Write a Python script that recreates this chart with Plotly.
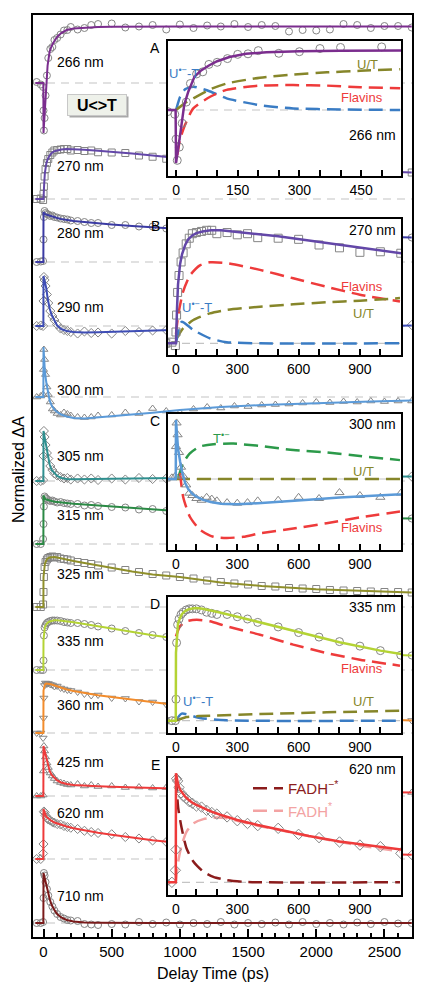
import plotly.graph_objects as go

# ------------------------------------------------------------------ data
WAVELENGTHS = ["266 nm", "270 nm", "280 nm", "290 nm", "300 nm", "305 nm", "315 nm",
               "325 nm", "335 nm", "360 nm", "425 nm", "620 nm", "710 nm"]
# vertical offset (baseline) of every stacked trace, in normalized units
OFFSETS = [17.08, 14.76, 13.5, 12.22, 10.8, 9.12, 7.86, 6.6, 5.34, 4.08, 2.82, 1.56, 0.28]

# fitted curves (delay time in ps)
T_FIT = [-60, -1, 0, 5, 10, 20, 30, 45, 60, 80, 100, 130, 170, 220, 300, 400, 500, 650, 800,
         1000, 1300, 1600, 2000, 2400, 2700]
FIT_266 = [0, 0, -1.0, -0.75, -0.47, 0.1, 0.35, 0.63, 0.74, 0.84, 0.92, 1.0, 1.06, 1.09, 1.11,
           1.12, 1.125, 1.13, 1.13, 1.13, 1.13, 1.13, 1.13, 1.13, 1.13]
FIT_270 = [0, 0, 0, 0.3, 0.52, 0.7, 0.79, 0.87, 0.92, 0.955, 0.975, 0.99, 1.0, 1.0, 0.985,
           0.967, 0.947, 0.91, 0.868, 0.81, 0.73, 0.67, 0.61, 0.56, 0.53]
FIT_280 = [0, 0, 1.0, 0.98, 0.96, 0.95, 0.94, 0.93, 0.92, 0.9, 0.88, 0.86, 0.84, 0.82, 0.8,
           0.77, 0.75, 0.72, 0.69, 0.66, 0.62, 0.58, 0.54, 0.51, 0.49]
FIT_290 = [0, 0, 1.0, 0.95, 0.9, 0.76, 0.56, 0.35, 0.22, 0.1, 0.01, -0.06, -0.1, -0.12, -0.13,
           -0.125, -0.115, -0.1, -0.09, -0.075, -0.06, -0.045, -0.025, -0.005, 0.01]
FIT_300 = [0, 0, 1.0, 0.75, 0.52, 0.3, 0.12, -0.07, -0.17, -0.25, -0.3, -0.35, -0.39, -0.42,
           -0.43, -0.41, -0.39, -0.35, -0.315, -0.26, -0.2, -0.16, -0.12, -0.09, -0.07]
FIT_305 = [0, 0, 1.0, 0.92, 0.83, 0.66, 0.5, 0.33, 0.22, 0.15, 0.1, 0.06, 0.04, 0.035, 0.035,
           0.04, 0.045, 0.05, 0.055, 0.06, 0.07, 0.075, 0.08, 0.085, 0.09]
FIT_315 = [0, 0, 0.97, 0.93, 0.91, 0.89, 0.88, 0.865, 0.855, 0.845, 0.84, 0.83, 0.82, 0.805,
           0.79, 0.77, 0.75, 0.72, 0.69, 0.655, 0.61, 0.58, 0.55, 0.52, 0.51]
FIT_325 = [0, 0, 0.6, 0.78, 0.86, 0.93, 0.97, 0.99, 1.0, 1.0, 0.99, 0.97, 0.95, 0.92, 0.88,
           0.83, 0.78, 0.71, 0.65, 0.6, 0.49, 0.42, 0.355, 0.31, 0.29]
FIT_335 = [0, 0, 0.6, 0.8, 0.86, 0.91, 0.945, 0.97, 0.985, 0.993, 0.997, 0.99, 0.977, 0.955,
           0.92, 0.875, 0.83, 0.76, 0.695, 0.62, 0.52, 0.44, 0.37, 0.32, 0.29]
FIT_360 = [0, 0, 0.85, 0.93, 0.97, 0.99, 0.99, 0.98, 0.97, 0.95, 0.93, 0.9, 0.87, 0.84, 0.8,
           0.755, 0.72, 0.67, 0.61, 0.55, 0.46, 0.4, 0.33, 0.28, 0.25]
FIT_425 = [0, 0, 1.0, 0.95, 0.9, 0.77, 0.65, 0.5, 0.42, 0.36, 0.31, 0.27, 0.24, 0.22, 0.205,
           0.195, 0.185, 0.17, 0.16, 0.145, 0.125, 0.11, 0.09, 0.08, 0.07]
FIT_620 = [0, 0, 1.0, 0.95, 0.9, 0.85, 0.825, 0.785, 0.76, 0.73, 0.71, 0.685, 0.65, 0.617,
           0.572, 0.525, 0.485, 0.425, 0.375, 0.32, 0.24, 0.18, 0.13, 0.1, 0.085]
FIT_710 = [0, 0, 1.0, 0.95, 0.9, 0.8, 0.66, 0.48, 0.36, 0.26, 0.18, 0.11, 0.06, 0.03, 0.01,
           0.005, 0, 0, 0, 0, 0, 0, 0, 0, 0]

# measured points (None = hidden behind an inset, not readable)
T_MK = [-50, -20, -3, 0, 3, 8, 15, 25, 35, 50, 65, 80, 100, 125, 150, 175, 200, 250, 300, 350,
        400, 500, 600, 700, 800, 900, 1000, 1100, 1200, 1300, 1400, 1500, 1600, 1700, 1800,
        1900, 2000, 2100, 2200, 2300, 2400, 2500, 2600, 2700]
HID = [None] * 14
MK_266 = [0.02, -0.03, -0.08, -0.55, -0.95, -0.7, -0.25, 0.15, 0.5, 0.68, 0.72, 0.86, 0.9, 0.97,
          1.05, 1.06, 1.12, 1.07, 1.1, 1.16, 1.18, 1.19, 1.11, 1.13, 1.16, 1.07, 1.17, 1.1, 1.15,
          1.13, 1.18, 1.12, 1.16, 1.14, 1.03, 1.06, 1.05, 1.07, 1.18, 1.16, 1.1, 1.14, 1.14, 1.11]
MK_270 = [0.0, 0.01, -0.02, 0.1, 0.25, 0.45, 0.6, 0.72, 0.8, 0.88, 0.93, 0.97, 0.98, 0.99, 1.0,
          1.0, 0.97, 0.98, 0.96, 0.97, 0.935, 0.93, 0.92, 0.87, 0.845, 0.805, 0.81, 0.797] + HID + [0.55, 0.53]
MK_280 = [0.0, 0.01, 0.02, 0.45, 0.9, 1.02, 0.98, 0.96, 0.95, 0.92, 0.93, 0.9, 0.89, 0.87, 0.86,
          0.85, 0.83, 0.82, 0.8, 0.78, 0.78, 0.74, 0.74, 0.71, 0.71, 0.67, 0.66, 0.65] + HID + [0.5, 0.49]
MK_290 = [0.0, 0.01, 0.0, 0.5, 0.98, 0.92, 0.8, 0.63, 0.46, 0.3, 0.2, 0.12, 0.03, -0.05, -0.08,
          -0.1, -0.12, -0.15, -0.11, -0.14, -0.13, -0.15, -0.1, -0.12, -0.09, -0.08, -0.08, -0.07] + HID + [0.0, 0.02]
MK_300 = [0.0, 0.02, 0.05, 0.55, 0.95, 0.75, 0.45, 0.2, 0.05, -0.1, -0.24, -0.28, -0.33, -0.36,
          -0.31, -0.34, -0.37, -0.4, -0.41, -0.4, -0.37, -0.36, -0.31, -0.33, -0.23, -0.28, -0.31,
          -0.24, -0.2, -0.22, -0.18, -0.19, -0.16, -0.15, -0.14, -0.12, -0.1, -0.11, -0.09, -0.1,
          -0.08, -0.09, -0.08, -0.08]
MK_305 = [0.0, 0.0, 0.02, 0.5, 1.0, 0.88, 0.72, 0.56, 0.45, 0.3, 0.22, 0.15, 0.11, 0.08, 0.05,
          0.06, 0.03, 0.05, 0.03, 0.05, 0.02, 0.05, 0.03, 0.06, 0.04, 0.05, 0.05, 0.06] + HID + [0.08, 0.09]
MK_315 = [0.0, 0.0, 0.1, 0.4, 0.75, 0.95, 0.92, 0.9, 0.88, 0.86, 0.87, 0.85, 0.83, 0.84, 0.82,
          0.81, 0.8, 0.8, 0.77, 0.78, 0.76, 0.74, 0.73, 0.69, 0.7, 0.66, 0.65, 0.64] + HID + [0.5, 0.51]
MK_325 = [0.0, 0.0, 0.05, 0.3, 0.6, 0.8, 0.9, 0.95, 0.98, 1.0, 1.01, 0.99, 1.0, 0.97, 0.96, 0.95,
          0.93, 0.9, 0.88, 0.86, 0.83, 0.79, 0.74, 0.7, 0.66, 0.63, 0.6, 0.57, 0.53, 0.5, 0.47,
          0.45, 0.42, 0.41, 0.38, 0.37, 0.36, 0.34, 0.33, 0.32, 0.31, 0.3, 0.3, 0.29]
MK_335 = [0.0, 0.0, 0.0, 0.19, 0.69, 0.85, 0.9, 0.94, 0.96, 0.98, 0.99, 0.99, 0.99, 0.98, 0.96,
          0.95, 0.94, 0.94, 0.92, 0.9, 0.87, 0.83, 0.78, 0.74, 0.7, 0.66, 0.62, 0.58] + HID + [0.3, 0.29]
MK_360 = [0.0, 0.0, -0.1, 0.3, 0.7, 0.95, 1.0, 0.98, 0.99, 0.97, 0.96, 0.93, 0.94, 0.9, 0.88,
          0.86, 0.85, 0.82, 0.78, 0.75, 0.76, 0.7, 0.69, 0.63, 0.62, 0.57, 0.55, 0.52] + HID + [0.26, 0.25]
MK_425 = [0.0, 0.0, 0.02, 0.5, 1.0, 0.9, 0.78, 0.66, 0.57, 0.46, 0.4, 0.35, 0.3, 0.27, 0.25,
          0.23, 0.22, 0.24, 0.2, 0.22, 0.19, 0.2, 0.17, 0.18, 0.16, 0.17, 0.15, 0.14] + HID + [0.07, 0.07]
MK_620 = [0.0, 0.0, 0.11, 0.3, 0.95, 0.93, 0.87, 0.82, 0.79, 0.77, 0.74, 0.725, 0.7, 0.69, 0.66,
          0.64, 0.625, 0.6, 0.565, 0.54, 0.52, 0.495, 0.44, 0.41, 0.37, 0.342, 0.327, 0.266] + HID + [0.09, 0.08]
MK_710 = [0.0, 0.0, 0.02, 0.5, 1.0, 0.95, 0.82, 0.68, 0.55, 0.42, 0.33, 0.25, 0.18, 0.12, 0.09,
          0.06, 0.05, 0.04, -0.02, -0.03, -0.04, -0.02, -0.03, 0.02, -0.02, 0.01, -0.03, 0.0,
          -0.02, 0.02, -0.03, 0.0, -0.02, 0.01, -0.03, 0.02, -0.02, 0.0, -0.03, 0.01, -0.02,
          0.02, -0.01, 0.0]

# inset component curves
A_T_BLUE = [0, 6, 10, 22, 42, 83, 123, 204, 285, 400, 545]
A_BLUE = [0.0, 0.16, 0.25, 0.39, 0.44, 0.35, 0.22, 0.09, 0.03, 0.01, 0.0]
A_T_OLIVE = [0, 20, 42, 83, 123, 204, 285, 367, 448, 545]
A_OLIVE = [0.0, 0.12, 0.22, 0.39, 0.5, 0.61, 0.67, 0.71, 0.74, 0.77]
A_T_RED = [3, 10, 22, 42, 83, 123, 204, 285, 367, 448, 545]
A_RED = [-0.85, -0.55, -0.28, 0.03, 0.25, 0.38, 0.46, 0.47, 0.46, 0.43, 0.41]

B_T_RED = [0, 11, 35, 68, 117, 166, 248, 411, 574, 737, 900, 1096]
B_RED = [0.08, 0.25, 0.457, 0.6, 0.69, 0.717, 0.71, 0.65, 0.575, 0.5, 0.43, 0.37]
B_T_OLIVE = [0, 35, 85, 166, 248, 411, 574, 737, 900, 1096]
B_OLIVE = [0.03, 0.133, 0.206, 0.265, 0.295, 0.324, 0.345, 0.363, 0.377, 0.40]
B_T_BLUE = [0, 28, 85, 166, 248, 411, 1096]
B_BLUE = [0.0, 0.19, 0.118, 0.044, 0.01, 0.0, 0.0]

C_T_GREEN = [11, 35, 68, 117, 183, 281, 411, 574, 737, 900, 1096]
C_GREEN = [0.02, 0.27, 0.435, 0.55, 0.59, 0.60, 0.56, 0.49, 0.45, 0.39, 0.32]
C_T_OLIVE = [0, 1096]
C_OLIVE = [0.0, 0.0]
C_T_RED = [20, 35, 68, 117, 183, 248, 330, 411, 574, 737, 900, 1096]
C_RED = [0.1, -0.3, -0.64, -0.86, -0.98, -1.0, -0.98, -0.92, -0.84, -0.75, -0.65, -0.55]

D_T_RED = [0, 20, 52, 101, 166, 248, 411, 574, 737, 900, 1096]
D_RED = [0.747, 0.835, 0.88, 0.894, 0.88, 0.835, 0.761, 0.673, 0.599, 0.54, 0.487]
D_T_BLUE = [0, 28, 117, 248, 1096]
D_BLUE = [0.0, 0.062, 0.024, 0.003, 0.0]
D_T_OLIVE = [0, 52, 166, 411, 737, 1096]
D_OLIVE = [0.0, 0.033, 0.044, 0.059, 0.074, 0.089]

E_T_DARK = [0, 11, 28, 52, 85, 134, 183, 248, 330, 411, 1096]
E_DARK = [0.954, 0.68, 0.495, 0.31, 0.19, 0.097, 0.05, 0.02, 0.005, 0.0, 0.0]
E_T_PINK = [0, 11, 28, 52, 85, 134, 183, 248, 330, 411, 574, 737, 900, 1096]
E_PINK = [0.0, 0.19, 0.342, 0.465, 0.54, 0.58, 0.593, 0.587, 0.55, 0.515, 0.453, 0.392, 0.338, 0.283]

MAIN_TICKS = [0, 500, 1000, 1500, 2000, 2500]
INSET_A_TICKS = [0, 150, 300, 450]
INSET_TICKS = [0, 300, 600, 900]

# ------------------------------------------------------------------ styles / geometry
W, H = 426, 997
ML, MR, MT, MB = 33, 14, 15, 60
PW, PH = W - ML - MR, H - MT - MB
FONT = "Liberation Sans, Arial, sans-serif"


def pxx(x):
    return (x - ML) / PW


def pxy(y):
    return (H - MB - y) / PH


MAIN_XR = [-77, 2702]
MAIN_YR = [0, PH / 50.0]

FITS = [FIT_266, FIT_270, FIT_280, FIT_290, FIT_300, FIT_305, FIT_315, FIT_325, FIT_335,
        FIT_360, FIT_425, FIT_620, FIT_710]
MARKS = [MK_266, MK_270, MK_280, MK_290, MK_300, MK_305, MK_315, MK_325, MK_335, MK_360,
         MK_425, MK_620, MK_710]
COLORS = ["#7b2d8e", "#6347a8", "#3b3ba3", "#3e4db5", "#5b9ad8", "#2f8f8f", "#2b8a45",
          "#8f8f2a", "#b4d334", "#f28c2c", "#ee3a3a", "#ee3a3a", "#7a1a1a"]
SYMBOLS = ["circle-open", "square-open", "circle-open", "diamond-open", "triangle-up-open",
           "diamond-open", "circle-open", "square-open", "circle-open", "triangle-down-open",
           "triangle-up-open", "diamond-open", "circle-open"]
LABEL_Y = [62, 166, 233, 307, 390, 456, 515, 574, 641, 705, 762, 813, 896]

BLUE, OLIVE, RED, GREEN = "#3a7cc4", "#86862a", "#ee3b3b", "#2c9a4a"
DARKRED, PINK = "#8b1c1c", "#f3a3a3"
MARK_COLOR = "#858585"
DASH = "14px,7px"

fig = go.Figure()


def shift(vals, off):
    return [None if v is None else v + off for v in vals]


# main baselines
for off in OFFSETS:
    fig.add_trace(go.Scatter(x=MAIN_XR, y=[off, off], mode="lines", showlegend=False,
                             hoverinfo="skip",
                             line=dict(color="#c4c4c4", width=1.2, dash="8px,6px")))
# main traces
for i, wl in enumerate(WAVELENGTHS):
    off = OFFSETS[i]
    fig.add_trace(go.Scatter(x=T_MK, y=shift(MARKS[i], off), mode="markers", showlegend=False,
                             marker=dict(symbol=SYMBOLS[i], size=7, color=MARK_COLOR,
                                         line=dict(width=1, color=MARK_COLOR))))
    fig.add_trace(go.Scatter(x=T_FIT, y=shift(FITS[i], off), mode="lines", showlegend=False,
                             name=wl, line=dict(color=COLORS[i], width=2)))

# insets
INSETS = [
    dict(letter="A", idx=0, top=41, bot=176, base=110, unit=53, xr=[-19.5, 547],
         ticks=INSET_A_TICKS, minor=50, wl_y=135,
         comps=[(A_T_BLUE, A_BLUE, BLUE, None), (A_T_OLIVE, A_OLIVE, OLIVE, None),
                (A_T_RED, A_RED, RED, None)]),
    dict(letter="B", idx=1, top=219, bot=355, base=343.3, unit=113, xr=[-39, 1101],
         ticks=INSET_TICKS, minor=100, wl_y=230,
         comps=[(B_T_RED, B_RED, RED, None), (B_T_OLIVE, B_OLIVE, OLIVE, None),
                (B_T_BLUE, B_BLUE, BLUE, None)]),
    dict(letter="C", idx=4, top=414, bot=550, base=479, unit=59, xr=[-39, 1101],
         ticks=INSET_TICKS, minor=100, wl_y=424,
         comps=[(C_T_GREEN, C_GREEN, GREEN, None), (C_T_OLIVE, C_OLIVE, OLIVE, None),
                (C_T_RED, C_RED, RED, None)]),
    dict(letter="D", idx=8, top=597, bot=733, base=720.7, unit=113, xr=[-39, 1101],
         ticks=INSET_TICKS, minor=100, wl_y=607,
         comps=[(D_T_RED, D_RED, RED, None), (D_T_BLUE, D_BLUE, BLUE, None),
                (D_T_OLIVE, D_OLIVE, OLIVE, None)]),
    dict(letter="E", idx=11, top=758, bot=895, base=882.3, unit=109, xr=[-39, 1101],
         ticks=INSET_TICKS, minor=100, wl_y=769,
         comps=[(E_T_PINK, E_PINK, PINK, '<span style="color:%s">FADH<sup>*</sup></span>' % PINK),
                (E_T_DARK, E_DARK, DARKRED,
                 '<span style="color:%s">FADH<sup>−*</sup></span>' % DARKRED)]),
]

INSET_X_DOMAIN = [pxx(168), pxx(401)]
layout_axes = {}
for k, ins in enumerate(INSETS):
    n = k + 2
    xa, ya = "x%d" % n, "y%d" % n
    yr = [-(ins["bot"] - ins["base"]) / ins["unit"], (ins["base"] - ins["top"]) / ins["unit"]]
    xr = ins["xr"]
    # white panel that hides the main traces
    fig.add_trace(go.Scatter(x=[xr[0], xr[1], xr[1], xr[0], xr[0]],
                             y=[yr[0], yr[0], yr[1], yr[1], yr[0]], xaxis=xa, yaxis=ya,
                             mode="lines", fill="toself", fillcolor="white",
                             line=dict(width=0, color="white"), showlegend=False,
                             hoverinfo="skip"))
    fig.add_trace(go.Scatter(x=xr, y=[0, 0], xaxis=xa, yaxis=ya, mode="lines",
                             showlegend=False, hoverinfo="skip",
                             line=dict(color="#c4c4c4", width=1.2, dash="8px,6px")))
    for (tt, vv, col, name) in ins["comps"]:
        fig.add_trace(go.Scatter(x=tt, y=vv, xaxis=xa, yaxis=ya, mode="lines",
                                 line=dict(color=col, width=2.5, dash=DASH, shape="spline",
                                           smoothing=0.6),
                                 showlegend=name is not None, name=name or "",
                                 legendrank=2 if col == PINK else 1))
    i = ins["idx"]
    fig.add_trace(go.Scatter(x=T_MK, y=MARKS[i], xaxis=xa, yaxis=ya, mode="markers",
                             showlegend=False,
                             marker=dict(symbol=SYMBOLS[i], size=8, color=MARK_COLOR,
                                         line=dict(width=1, color=MARK_COLOR))))
    fig.add_trace(go.Scatter(x=T_FIT, y=FITS[i], xaxis=xa, yaxis=ya, mode="lines",
                             showlegend=False, line=dict(color=COLORS[i], width=2.5)))
    layout_axes["xaxis%d" % n] = dict(
        domain=INSET_X_DOMAIN, anchor=ya, range=xr, showline=True, mirror=True,
        linewidth=2, linecolor="black", ticks="inside", tickvals=ins["ticks"], ticklen=6,
        tickwidth=1.5, tickcolor="black", showgrid=False, zeroline=False, automargin=False,
        tickfont=dict(size=14, color="black", family=FONT),
        minor=dict(dtick=ins["minor"], tick0=0, ticks="inside", ticklen=6, tickwidth=1.5,
                   tickcolor="black", showgrid=False))
    layout_axes["yaxis%d" % n] = dict(
        domain=[pxy(ins["bot"]), pxy(ins["top"])], anchor=xa, range=yr, showline=True,
        mirror=True, linewidth=2, linecolor="black", showticklabels=False, ticks="",
        showgrid=False, zeroline=False, automargin=False)

# ------------------------------------------------------------------ annotations
ann = []
for i, wl in enumerate(WAVELENGTHS):
    ann.append(dict(x=pxx(55), y=pxy(LABEL_Y[i]), text=wl, xanchor="left", yanchor="middle",
                    font=dict(size=14, color="black")))
for ins in INSETS:
    ann.append(dict(x=pxx(155), y=pxy(ins["top"] + 7), text=ins["letter"], xanchor="center",
                    yanchor="middle", font=dict(size=14, color="black")))
    ann.append(dict(x=pxx(398), y=pxy(ins["wl_y"]), text=WAVELENGTHS[ins["idx"]],
                    xanchor="right", yanchor="middle", font=dict(size=14, color="black")))

COMP_LABELS = [
    ("U<sup>•−</sup>-T", 184, 73, BLUE), ("U/T", 367, 64, OLIVE), ("Flavins", 362, 98, RED),
    ("Flavins", 362, 286, RED), ("U/T", 363, 313, OLIVE), ("U<sup>•−</sup>-T", 197, 307, BLUE),
    ("T<sup>•−</sup>", 221, 438, GREEN), ("U/T", 363, 472, OLIVE), ("Flavins", 362, 527, RED),
    ("Flavins", 362, 668, RED), ("U<sup>•−</sup>-T", 198, 701, BLUE), ("U/T", 363, 701, OLIVE),
]
for txt, x, y, col in COMP_LABELS:
    ann.append(dict(x=pxx(x), y=pxy(y), text=txt, xanchor="center", yanchor="middle",
                    font=dict(size=13, color=col)))

# U<>T box with shadow
ann.append(dict(x=pxx(99), y=pxy(107), text=" ", width=54, height=16, bgcolor="#a8a8a8",
                borderpad=2, xanchor="center", yanchor="middle", font=dict(size=15)))
ann.append(dict(x=pxx(97), y=pxy(105), text="<b>U&lt;&gt;T</b>", width=54, height=16,
                bgcolor="#eef1ea", bordercolor="#c8c8c8", borderwidth=1, borderpad=2,
                xanchor="center", yanchor="middle", font=dict(size=16, color="black")))
# axis titles
ann.append(dict(x=pxx(18), y=pxy(470), text="Normalized ΔA", textangle=-90,
                xanchor="center", yanchor="middle", font=dict(size=16, color="black")))
ann.append(dict(x=pxx(213), y=pxy(973), text="Delay Time (ps)", xanchor="center",
                yanchor="middle", font=dict(size=16, color="black")))
for a in ann:
    a.update(xref="paper", yref="paper", showarrow=False)

fig.update_layout(
    width=W, height=H, margin=dict(l=ML, r=MR, t=MT, b=MB, autoexpand=False),
    paper_bgcolor="white", plot_bgcolor="white",
    font=dict(family=FONT, size=14, color="black"),
    xaxis=dict(domain=[0, 1], range=MAIN_XR, showline=True, mirror=True, linewidth=2,
               linecolor="black", ticks="inside", tickvals=MAIN_TICKS, ticklen=8,
               tickwidth=1.5, tickcolor="black", showgrid=False, zeroline=False,
               automargin=False,
               tickfont=dict(size=15, color="black", family=FONT),
               minor=dict(dtick=100, tick0=0, ticks="inside", ticklen=4.5, tickwidth=1.5,
                          tickcolor="black", showgrid=False)),
    yaxis=dict(domain=[0, 1], range=MAIN_YR, showline=True, mirror=True, linewidth=2,
               linecolor="black", showticklabels=False, ticks="", showgrid=False,
               zeroline=False, automargin=False),
    showlegend=True,
    legend=dict(x=pxx(248), y=pxy(772), xanchor="left", yanchor="top",
                bgcolor="rgba(0,0,0,0)", font=dict(size=15), tracegroupgap=0,
                itemwidth=30, traceorder="normal"),
    annotations=ann,
    **layout_axes,
)

# remove the browser's default 8px page margin so the figure sits at the window origin
fig.write_html("out.html", config={"displayModeBar": False},
               post_script="document.body.style.margin='0';document.body.style.padding='0';"
                           "document.documentElement.style.overflow='hidden';")
